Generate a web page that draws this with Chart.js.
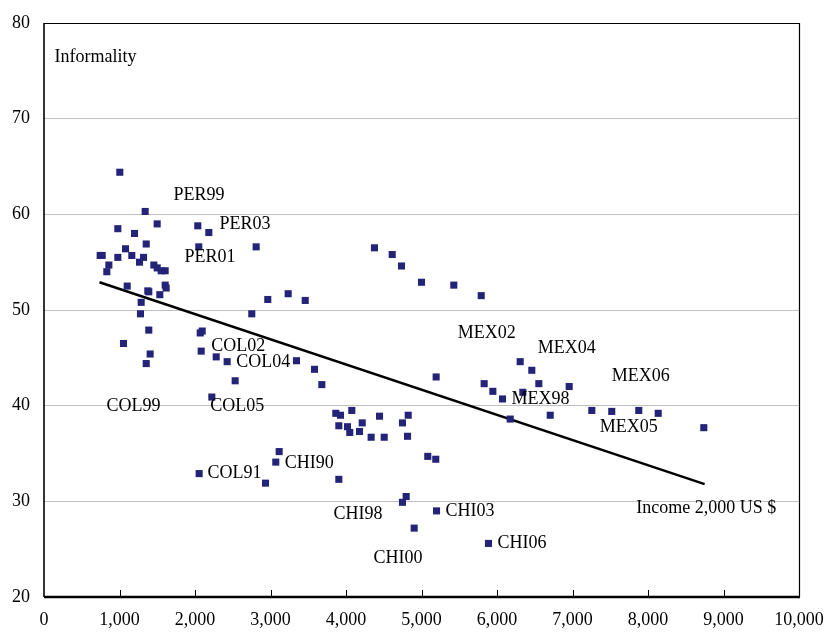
<!DOCTYPE html>
<html>
<head>
<meta charset="utf-8">
<script src="https://cdn.jsdelivr.net/npm/chart.js@4/dist/chart.umd.min.js"></script>
<style>
  html, body { margin: 0; padding: 0; background: #fff; }
  #wrap { width: 826px; height: 632px; }
</style>
</head>
<body>
<div id="wrap"><canvas id="myChart" width="826" height="632"></canvas></div>
<script>
// income per capita (US $) and informality (%)
const incomeX = [
    1004, 1340, 1499, 978, 1199, 2037, 2183, 1354, 2050, 2810,
    744, 771, 978, 1080, 1163, 1318, 1265, 1455, 1499, 1552,
    1605, 859, 832, 1102, 1375, 1388, 1534, 1605, 1618, 1287,
    1278, 1388, 1053, 1406, 1354, 2964, 3234, 3460, 2752, 2095,
    2069, 2082, 2281, 2426, 3344, 2532, 2223, 3583, 3680, 3865,
    3927, 4077, 3905, 4020, 4050, 4215, 4179, 4333, 4444, 4506,
    4748, 4824, 4815, 5083, 5189, 3115, 3070, 2055, 2934, 3905,
    4797, 4748, 4903, 4377, 4612, 4735, 5000, 5428, 5791, 5194,
    5830, 5945, 6073, 6307, 6461, 6554, 6342, 6175, 5199, 5887,
    6956, 6705, 7256, 7520, 7878, 8135, 8739
];
const informalityY = [
    64.4, 60.3, 59.0, 58.5, 58.0, 58.8, 58.1, 56.9, 56.6, 56.6,
    55.7, 55.7, 55.5, 56.4, 55.7, 55.5, 55.0, 54.7, 54.4, 54.1,
    54.1, 54.7, 54.0, 52.5, 52.0, 51.9, 51.6, 52.6, 52.3, 50.8,
    49.6, 47.9, 46.5, 45.4, 44.4, 51.1, 51.7, 51.0, 49.6, 47.8,
    47.6, 45.7, 45.1, 44.6, 44.7, 42.6, 40.9, 43.8, 42.2, 39.2,
    39.0, 39.5, 37.9, 37.8, 37.2, 38.2, 37.3, 36.7, 38.9, 36.7,
    38.2, 39.0, 36.8, 34.7, 34.4, 35.2, 34.1, 32.9, 31.9, 32.3,
    30.5, 29.9, 27.2, 56.5, 55.8, 54.6, 52.9, 52.6, 51.5, 43.0,
    42.3, 41.5, 40.7, 44.6, 43.7, 42.3, 41.4, 38.6, 29.0, 25.6,
    42.0, 39.0, 39.5, 39.4, 39.5, 39.2, 37.7
];

// fitted trend line end points
const trendX = [735, 8750];
const trendY = [52.9, 31.8];

// text labels: text, income, informality (left edge, middle)
const labelText = ['Informality', 'PER99', 'PER03', 'PER01', 'COL02', 'COL04', 'COL05', 'COL99', 'COL91',
    'CHI90', 'CHI98', 'CHI00', 'CHI03', 'CHI06', 'MEX02', 'MEX04', 'MEX06', 'MEX98', 'MEX05', 'Income 2,000 US $'];
const labelX = [139, 1715, 2325, 1861, 2215, 2546, 2201, 828, 2166,
    3189, 3834, 4364, 5318, 6007, 5481, 6540, 7521, 6192, 7362, 7844];
const labelY = [76.4, 62.0, 59.0, 55.5, 46.2, 44.5, 39.9, 39.9, 32.9,
    34.0, 28.7, 24.1, 29.0, 25.6, 47.6, 46.0, 43.1, 40.7, 37.7, 29.3];

const xTicks = [0, 1000, 2000, 3000, 4000, 5000, 6000, 7000, 8000, 9000, 10000];

const FONT = "'Liberation Serif', 'Times New Roman', serif";

const points = incomeX.map((x, i) => ({ x: x, y: informalityY[i] }));
const trend = trendX.map((x, i) => ({ x: x, y: trendY[i] }));

const framePlugin = {
    id: 'frame',
    afterDraw(chart) {
        const ctx = chart.ctx;
        const a = chart.chartArea;
        const xs = chart.scales.x;
        ctx.save();
        ctx.strokeStyle = '#000';
        // top and right borders
        ctx.lineWidth = 1.2;
        ctx.beginPath();
        ctx.moveTo(a.left, a.top + 0.5);
        ctx.lineTo(a.right + 0.5, a.top + 0.5);
        ctx.lineTo(a.right + 0.5, a.bottom);
        ctx.stroke();
        // left and bottom axis
        ctx.lineWidth = 1.6;
        ctx.beginPath();
        ctx.moveTo(a.left, a.top);
        ctx.lineTo(a.left, a.bottom);
        ctx.stroke();
        ctx.lineWidth = 2.5;
        ctx.beginPath();
        ctx.moveTo(a.left, a.bottom);
        ctx.lineTo(a.right + 1, a.bottom);
        ctx.stroke();
        // small inward ticks on the x axis
        ctx.lineWidth = 1;
        xTicks.slice(1, -1).forEach((v) => {
            const px = Math.round(xs.getPixelForValue(v)) + 0.5;
            ctx.beginPath();
            ctx.moveTo(px, a.bottom);
            ctx.lineTo(px, a.bottom - 7);
            ctx.stroke();
        });
        // text labels
        ctx.fillStyle = '#000';
        ctx.font = '18px ' + FONT;
        ctx.textAlign = 'left';
        ctx.textBaseline = 'middle';
        labelText.forEach((t, i) => {
            ctx.fillText(t, xs.getPixelForValue(labelX[i]), chart.scales.y.getPixelForValue(labelY[i]));
        });
        ctx.restore();
    }
};

const myChart = new Chart(document.getElementById('myChart'), {
    type: 'scatter',
    data: {
        datasets: [
            {
                data: points,
                pointStyle: 'rect',
                pointRadius: 5,
                pointHoverRadius: 5,
                borderWidth: 0,
                backgroundColor: '#232378',
                borderColor: '#232378'
            },
            {
                type: 'line',
                data: trend,
                borderColor: '#000',
                borderWidth: 2.5,
                pointRadius: 0,
                fill: false
            }
        ]
    },
    options: {
        responsive: false,
        animation: false,
        events: [],
        layout: { padding: { top: 23, right: 27, left: 0, bottom: 0 } },
        plugins: { legend: { display: false }, tooltip: { enabled: false } },
        scales: {
            x: {
                type: 'linear',
                min: 0,
                max: 10000,
                afterBuildTicks: (scale) => { scale.ticks = xTicks.map((v) => ({ value: v })); },
                afterFit: (scale) => {
                    scale.height = 35;
                    scale.paddingRight = 0;
                    scale.paddingLeft = 0;
                },
                grid: { display: false, drawTicks: false },
                border: { display: false },
                ticks: {
                    color: '#000',
                    padding: 12,
                    maxRotation: 0,
                    autoSkip: false,
                    font: { family: FONT, size: 18 },
                    callback: (v) => v.toLocaleString('en-US')
                }
            },
            y: {
                min: 20,
                max: 80,
                afterFit: (scale) => {
                    scale.width = 44;
                    scale.paddingTop = 0;
                    scale.paddingBottom = 0;
                },
                grid: { color: '#c0c0c0', lineWidth: 1, drawTicks: false },
                border: { display: false },
                ticks: {
                    stepSize: 10,
                    color: '#000',
                    padding: 14,
                    font: { family: FONT, size: 18 }
                }
            }
        }
    },
    plugins: [framePlugin]
});
</script>
</body>
</html>
